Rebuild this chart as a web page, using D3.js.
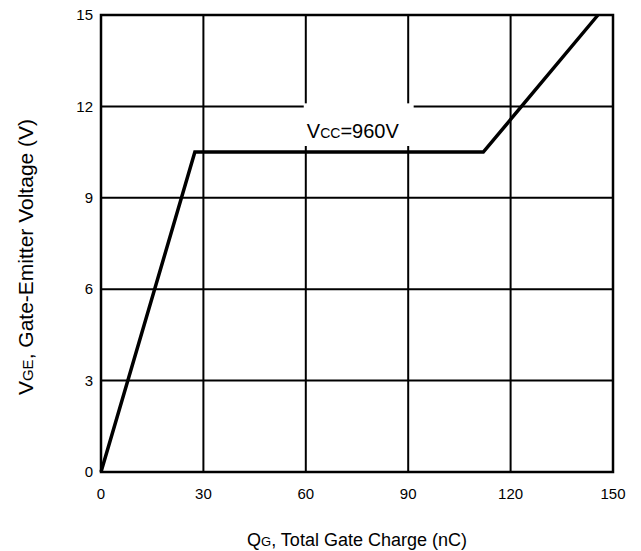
<!DOCTYPE html>
<style>
body { margin: 0; background: #fff; }
text { font-family: "Liberation Sans", Arial, sans-serif; fill: #000; }
</style>
<svg width="641" height="551"></svg>
<script src="https://d3js.org/d3.v7.min.js"></script>
<script>

var xTicks = [0, 30, 60, 90, 120, 150];
var yTicks = [0, 3, 6, 9, 12, 15];
// gate charge curve, Vcc = 960V
var qg = [0, 27.5, 112, 145.6];
var vge = [0, 10.5, 10.5, 15];

var svg = d3.select("svg"),
    margin = {top: 15, right: 28, bottom: 79, left: 101},
    width = +svg.attr("width") - margin.left - margin.right,
    height = +svg.attr("height") - margin.top - margin.bottom,
    g = svg.append("g").attr("transform", "translate(" + margin.left + "," + margin.top + ")");

var x = d3.scaleLinear().domain([0, 150]).range([0, width]);
var y = d3.scaleLinear().domain([0, 15]).range([height, 0]);

// grid
g.append("g").selectAll("line")
  .data(xTicks.slice(1, -1))
  .enter().append("line")
    .attr("x1", x).attr("x2", x)
    .attr("y1", 0).attr("y2", height)
    .attr("stroke", "#000").attr("stroke-width", 2);

g.append("g").selectAll("line")
  .data(yTicks.slice(1, -1))
  .enter().append("line")
    .attr("y1", y).attr("y2", y)
    .attr("x1", 0).attr("x2", width)
    .attr("stroke", "#000").attr("stroke-width", 2);

// label box masks the grid
g.append("rect")
    .attr("x", x(59.4)).attr("y", y(12.1))
    .attr("width", x(91.6) - x(59.4))
    .attr("height", y(10.7) - y(12.1))
    .attr("fill", "#fff");

var label = g.append("text")
    .attr("x", x(60.3)).attr("y", y(10.95))
    .attr("font-size", 20);
label.append("tspan").text("V");
label.append("tspan").attr("font-size", 14).text("CC");
label.append("tspan").text("=960V");

// curve
var line = d3.line()
    .x(function(d, i) { return x(qg[i]); })
    .y(function(d, i) { return y(vge[i]); });

g.append("path")
    .datum(qg)
    .attr("d", line)
    .attr("fill", "none")
    .attr("stroke", "#000")
    .attr("stroke-width", 3.5)
    .attr("stroke-linejoin", "miter");

// frame
g.append("rect")
    .attr("width", width).attr("height", height)
    .attr("fill", "none")
    .attr("stroke", "#000").attr("stroke-width", 2.5);

// tick labels
g.append("g").selectAll("text")
  .data(xTicks)
  .enter().append("text")
    .attr("x", x).attr("y", height + 27)
    .attr("text-anchor", "middle")
    .attr("font-size", 15)
    .text(function(d) { return d; });

g.append("g").selectAll("text")
  .data(yTicks)
  .enter().append("text")
    .attr("x", -8).attr("y", y)
    .attr("dy", "0.35em")
    .attr("text-anchor", "end")
    .attr("font-size", 15)
    .text(function(d) { return d; });

// axis titles
var xt = svg.append("text")
    .attr("x", margin.left + width / 2)
    .attr("y", 546)
    .attr("text-anchor", "middle")
    .attr("font-size", 18);
xt.append("tspan").text("Q");
xt.append("tspan").attr("font-size", 13).text("G");
xt.append("tspan").text(", Total Gate Charge (nC)");

var yt = svg.append("text")
    .attr("transform", "translate(33,257) rotate(-90)")
    .attr("text-anchor", "middle")
    .attr("font-size", 21);
yt.append("tspan").text("V");
yt.append("tspan").attr("font-size", 15).text("GE");
yt.append("tspan").text(", Gate-Emitter Voltage (V)");

</script>
